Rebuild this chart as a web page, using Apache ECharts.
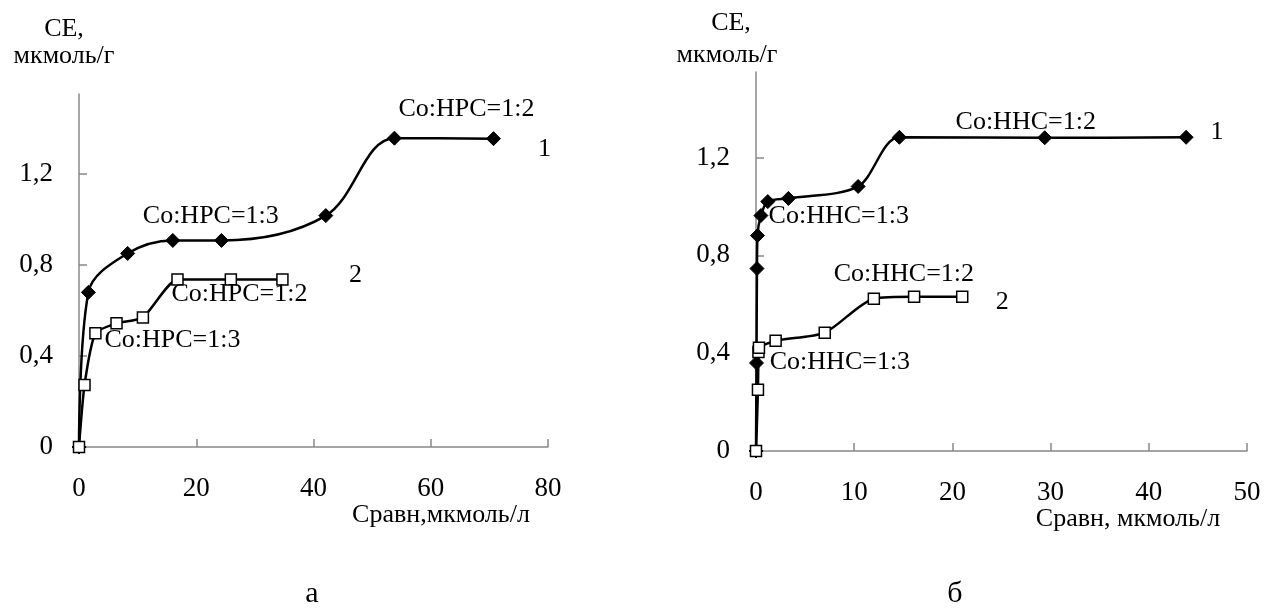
<!DOCTYPE html>
<html>
<head>
<meta charset="utf-8">
<script src="https://cdn.jsdelivr.net/npm/echarts@6/dist/echarts.min.js"></script>
<style>
html,body{margin:0;padding:0;background:#fff;}
#chart{width:1273px;height:612px;}
</style>
</head>
<body>
<div id="chart"></div>
<script>
// ---------- data ----------
// Panel a: Co:HPC
var leftX1 = [0, 1.6, 8.3, 16.0, 24.3, 42.1, 53.8, 70.7];
var leftY1 = [0, 0.679, 0.85, 0.907, 0.907, 1.016, 1.356, 1.354];
var leftX2 = [0, 0.94, 2.8, 6.4, 10.9, 16.8, 25.9, 34.7];
var leftY2 = [0, 0.272, 0.499, 0.543, 0.569, 0.736, 0.736, 0.736];
// Panel б: Co:HHC
var rightX1 = [0, 0.05, 0.1, 0.15, 0.5, 1.2, 3.3, 10.4, 14.6, 29.4, 43.8];
var rightY1 = [0, 0.36, 0.746, 0.881, 0.963, 1.02, 1.033, 1.082, 1.283, 1.281, 1.283];
var rightX2 = [0, 0.2, 0.25, 0.3, 2.0, 7.0, 12.0, 16.1, 21.0];
var rightY2 = [0, 0.25, 0.405, 0.422, 0.451, 0.484, 0.623, 0.631, 0.631];

var yTicks = [0, 0.4, 0.8, 1.2];
var leftXTicks = [0, 20, 40, 60, 80];
var rightXTicks = [0, 10, 20, 30, 40, 50];

// annotation texts attached to data points (point index -> text)
var leftNotes1 = [[3, 'Co:HPC=1:3'], [6, 'Co:HPC=1:2'], [7, '1']];
var leftNotes2 = [[5, 'Co:HPC=1:2'], [2, 'Co:HPC=1:3'], [7, '2']];
var rightNotes1 = [[5, 'Co:HHC=1:3'], [9, 'Co:HHC=1:2'], [10, '1']];
var rightNotes2 = [[6, 'Co:HHC=1:2'], [3, 'Co:HHC=1:3'], [8, '2']];

var yTitle = ['CE,', 'мкмоль/г'];
var xNameLeft = 'Сравн,мкмоль/л';
var xNameRight = 'Сравн, мкмоль/л';
var panelLetters = ['а', 'б'];

// ---------- layout / style ----------
var FONT = "'Liberation Serif','Times New Roman',serif";
var FS = 26;
var TFS = 27;
// label offsets (pixels) for the annotations, in the same order as the notes
var leftOff1 = [[38, -24], [72, -29], [51, 11]];
var leftOff2 = [[62, 15], [77, 7], [73, -4]];
var rightOff1 = [[71, 15], [-19, -16], [31, -5]];
var rightOff2 = [[30, -24], [81, 14], [40, 5]];

function buildData(xs, ys, notes, offs) {
  var d = xs.map(function (x, i) { return { value: [x, ys[i]] }; });
  notes.forEach(function (n, k) {
    d[n[0]].label = {
      show: true, formatter: n[1], position: 'inside', offset: offs[k],
      color: '#000', fontFamily: FONT, fontSize: FS
    };
  });
  return d;
}

function xAxisCfg(gi, max, interval) {
  return {
    type: 'value', gridIndex: gi, min: 0, max: max, interval: interval,
    axisLine: { show: true, onZero: false, lineStyle: { color: '#888', width: 1.5 } },
    axisTick: { show: true, inside: true, length: 8, lineStyle: { color: '#888', width: 1.5 } },
    axisLabel: { color: '#000', fontFamily: FONT, fontSize: TFS, margin: 28 },
    splitLine: { show: false }
  };
}
function yAxisCfg(gi) {
  return {
    type: 'value', gridIndex: gi, min: 0, max: 1.55, interval: 0.4,
    axisLine: { show: true, onZero: false, lineStyle: { color: '#888', width: 1.5 } },
    axisTick: { show: true, inside: true, length: 8, customValues: yTicks, lineStyle: { color: '#888', width: 1.5 } },
    axisLabel: {
      color: '#000', fontFamily: FONT, fontSize: TFS, margin: 26, customValues: yTicks,
      formatter: function (v) {
        var r = Math.round(v * 10) / 10;
        if (Math.abs(v - r) > 1e-6 || r > 1.5) return '';
        return String(r).replace('.', ',');
      }
    },
    splitLine: { show: false }
  };
}
function diamondSeries(gi, data, smooth) {
  return {
    type: 'line', xAxisIndex: gi, yAxisIndex: gi, data: data, smooth: smooth,
    symbol: 'diamond', symbolSize: 14,
    lineStyle: { color: '#000', width: 2.5 },
    itemStyle: { color: '#000', borderColor: '#000' },
    z: 3, animation: false
  };
}
function squareSeries(gi, data, smooth) {
  return {
    type: 'line', xAxisIndex: gi, yAxisIndex: gi, data: data, smooth: smooth,
    symbol: 'rect', symbolSize: 11,
    lineStyle: { color: '#000', width: 2.5 },
    itemStyle: { color: '#fff', borderColor: '#000', borderWidth: 1.5 },
    z: 4, animation: false
  };
}
function txt(x, y, s, size) {
  return { type: 'text', x: x, y: y, style: { text: s, fill: '#000', font: (size || FS) + 'px ' + FONT, align: 'center', verticalAlign: 'middle' } };
}

var chart = echarts.init(document.getElementById('chart'));
chart.setOption({
  backgroundColor: '#fff',
  animation: false,
  grid: [
    { left: 79, top: 94, width: 469, height: 353 },
    { left: 756, top: 72, width: 491, height: 379 }
  ],
  xAxis: [xAxisCfg(0, leftXTicks[leftXTicks.length - 1], 20), xAxisCfg(1, rightXTicks[rightXTicks.length - 1], 10)],
  yAxis: [yAxisCfg(0), yAxisCfg(1)],
  series: [
    diamondSeries(0, buildData(leftX1, leftY1, leftNotes1, leftOff1), 0.35),
    squareSeries(0, buildData(leftX2, leftY2, leftNotes2, leftOff2), 0.2),
    diamondSeries(1, buildData(rightX1, rightY1, rightNotes1, rightOff1), 0.3),
    squareSeries(1, buildData(rightX2, rightY2, rightNotes2, rightOff2), 0.25)
  ],
  graphic: [
    txt(64, 29, yTitle[0]), txt(64, 56, yTitle[1]),
    txt(731, 23, yTitle[0]), txt(727, 55, yTitle[1]),
    txt(441, 515, xNameLeft), txt(1128, 519, xNameRight),
    txt(312, 594, panelLetters[0], 30), txt(955, 594, panelLetters[1], 30)
  ]
});
</script>
</body>
</html>
